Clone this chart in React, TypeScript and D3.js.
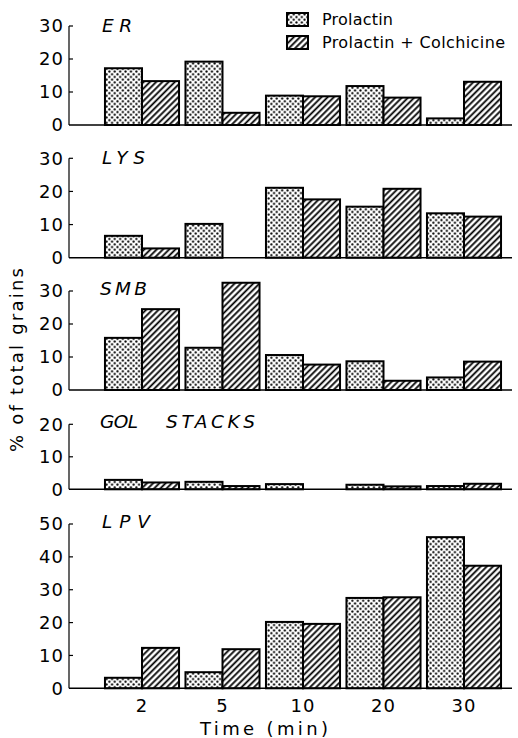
import React from "react";
import * as d3 from "d3";

const times = ["2", "5", "10", "20", "30"];
const seriesNames = ["Prolactin", "Prolactin + Colchicine"];
const panelNames = ["ER", "LYS", "SMB", "GOL STACKS", "LPV"];
const panelMax = [30, 30, 30, 20, 50];
const panelTicks = [
  [0, 10, 20, 30],
  [0, 10, 20, 30],
  [0, 10, 20, 30],
  [0, 10, 20],
  [0, 10, 20, 30, 40, 50],
];
const prolactin = [
  [17.2, 19.2, 8.9, 11.8, 2.0],
  [6.6, 10.2, 21.1, 15.4, 13.4],
  [15.8, 12.8, 10.6, 8.7, 3.8],
  [2.9, 2.3, 1.6, 1.4, 1.0],
  [3.2, 4.9, 20.2, 27.5, 46.0],
];
const colchicine = [
  [13.3, 3.7, 8.7, 8.3, 13.1],
  [2.8, 0, 17.6, 20.8, 12.4],
  [24.5, 32.5, 7.7, 2.8, 8.6],
  [2.1, 1.0, 0, 0.9, 1.7],
  [12.3, 11.9, 19.6, 27.7, 37.3],
];

// layout (pixel positions of each panel's zero line and top tick)
const panelBottom = [125, 257.7, 390, 489.3, 688.3];
const panelTop = [26, 158.3, 291, 424.3, 524];
const labelWidths = [[30], [43], [47], [38, 89], [48]];
const labelXs = [[102], [102], [100], [100, 166], [102]];

const W = 518;
const H = 738;
const axisX = 69;
const FONT = "'DejaVu Sans', sans-serif";

export default function App() {
  const x = d3
    .scaleBand<string>()
    .domain(times)
    .range([101.75, 504.25])
    .paddingInner(0.08)
    .paddingOuter(0.04);
  const xs = d3
    .scaleBand<string>()
    .domain(seriesNames)
    .range([0, x.bandwidth()]);
  const fills = ["url(#dots)", "url(#hatch)"];

  return (
    <svg
      width={W}
      height={H}
      style={{ position: "absolute", left: 0, top: 0, background: "#fff" }}
      fontFamily={FONT}
    >
      <defs>
        <pattern id="dots" width={5.4} height={5.4} patternUnits="userSpaceOnUse">
          <rect width={5.4} height={5.4} fill="#fff" />
          <circle cx={1.35} cy={1.35} r={1.1} fill="#000" />
          <circle cx={4.05} cy={4.05} r={1.1} fill="#000" />
        </pattern>
        <pattern
          id="hatch"
          width={4.4}
          height={4.4}
          patternUnits="userSpaceOnUse"
          patternTransform="rotate(45)"
        >
          <rect width={4.4} height={4.4} fill="#fff" />
          <line x1={1.2} y1={0} x2={1.2} y2={4.4} stroke="#000" strokeWidth={1.8} />
        </pattern>
      </defs>

      {panelNames.map((name, pi) => {
        const y = d3
          .scaleLinear()
          .domain([0, panelMax[pi]])
          .range([panelBottom[pi], panelTop[pi]]);
        const series = [prolactin[pi], colchicine[pi]];
        const words = name.split(" ");
        return (
          <g key={name}>
            {series.map((vals, si) =>
              vals.map((v, ti) =>
                v > 0 ? (
                  <rect
                    key={`${si}-${ti}`}
                    x={(x(times[ti]) ?? 0) + (xs(seriesNames[si]) ?? 0)}
                    y={y(v)}
                    width={xs.bandwidth()}
                    height={y(0) - y(v)}
                    fill={fills[si]}
                    stroke="#000"
                    strokeWidth={2}
                  />
                ) : null
              )
            )}
            <line
              x1={axisX}
              x2={512}
              y1={y(0)}
              y2={y(0)}
              stroke="#000"
              strokeWidth={1.5}
            />
            <line
              x1={axisX}
              x2={axisX}
              y1={y(0)}
              y2={y(panelMax[pi])}
              stroke="#000"
              strokeWidth={1.2}
            />
            {panelTicks[pi].map((t) => (
              <g key={t}>
                {t > 0 && (
                  <line
                    x1={axisX}
                    x2={axisX + 4}
                    y1={y(t)}
                    y2={y(t)}
                    stroke="#000"
                    strokeWidth={1.2}
                  />
                )}
                <text
                  x={64}
                  y={y(t)}
                  dy="0.36em"
                  textAnchor="end"
                  fontSize={18}
                  letterSpacing={1}
                >
                  {t}
                </text>
              </g>
            ))}
            {words.map((w, wi) => (
              <text
                key={w}
                x={labelXs[pi][wi]}
                y={y(panelMax[pi]) + (pi === 0 || pi === 1 ? 6 : 4)}
                fontSize={18.5}
                fontStyle="italic"
                textLength={labelWidths[pi][wi]}
                lengthAdjust="spacing"
              >
                {w}
              </text>
            ))}
          </g>
        );
      })}

      {times.map((t) => (
        <text
          key={t}
          x={(x(t) ?? 0) + x.bandwidth() / 2}
          y={712}
          textAnchor="middle"
          fontSize={18}
          letterSpacing={1}
        >
          {t}
        </text>
      ))}
      <text x={200} y={735} fontSize={18} textLength={128} lengthAdjust="spacing">
        Time (min)
      </text>
      <text
        transform="translate(23,452) rotate(-90)"
        x={0}
        y={0}
        fontSize={18}
        textLength={184}
        lengthAdjust="spacing"
      >
        % of total grains
      </text>

      {seriesNames.map((s, i) => (
        <g key={s} transform={`translate(287,${13 + i * 23})`}>
          <rect width={21} height={13} fill={fills[i]} stroke="#000" strokeWidth={2} />
          <text x={35} y={12} fontSize={16} textLength={i === 0 ? 71 : 183} lengthAdjust="spacing">
            {s}
          </text>
        </g>
      ))}
    </svg>
  );
}
